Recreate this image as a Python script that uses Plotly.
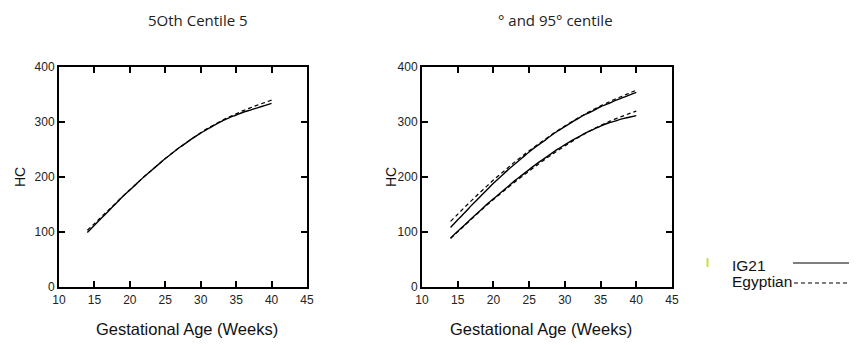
import plotly.graph_objects as go

weeks = list(range(14, 41))

# Left panel: 50th centile
ig21_p50 = [99, 112, 125, 138, 151, 164, 176, 188, 200, 211, 222, 233, 243, 253,
            262, 271, 279, 287, 294, 301, 307, 312, 317, 321, 325, 329, 333]
egy_p50 = [103, 115, 127.5, 140, 152, 164.5, 176.5, 188, 200, 211, 222, 233, 243, 253,
           262, 271, 280, 288, 295, 302, 308.5, 314, 320, 325, 330, 334.5, 339]

# Right panel: 5th and 95th centiles
ig21_p95 = [108, 122, 135, 149, 162, 175, 188, 200, 212, 223, 234, 245, 255, 264,
            274, 283, 291, 299, 307, 314, 320, 327, 332, 338, 343, 348, 353]
egy_p95 = [119, 132, 145, 157.5, 170, 182, 194, 205, 216, 227, 237, 247, 256.5, 266,
           275, 284, 292, 300, 308, 315, 322, 328.5, 334.5, 340.5, 346, 351.5, 357]
ig21_p5 = [89, 101, 113, 125, 137, 149, 160, 171, 182, 193, 203, 213, 223, 232,
           241, 250, 258, 266, 273, 280, 286, 292, 297, 301, 305, 308, 311]
egy_p5 = [88, 100, 112, 124, 136, 147.5, 158.5, 169.5, 180, 190.5, 200.5, 210.5, 220, 229.5,
          238.5, 247.5, 256, 264, 272, 279.5, 286.5, 293, 299, 304.5, 309.5, 314.5, 319]

x_ticks = [10, 15, 20, 25, 30, 35, 40, 45]
y_ticks = [0, 100, 200, 300, 400]

titles = ["5Oth Centile 5", "° and 95° centile"]
x_title = "Gestational Age (Weeks)"
y_title = "HC"
legend_names = ["IG21", "Egyptian"]

# page body has an 8px default margin; the figure is sized to fit the window
OFF = 8
W, H = 857 - OFF, 345 - OFF

def px(x):
    return (x - OFF) / W

def py(y):
    return 1 - (y - OFF) / H

fig = go.Figure()

solid = dict(color="black", width=1.4)
dashed = dict(color="black", width=1.2, dash="4px,3px")

fig.add_trace(go.Scatter(x=weeks, y=ig21_p50, mode="lines", line=solid, line_shape="spline",
                         xaxis="x", yaxis="y", showlegend=False))
fig.add_trace(go.Scatter(x=weeks, y=egy_p50, mode="lines", line=dashed, line_shape="spline",
                         xaxis="x", yaxis="y", showlegend=False))
for s in (ig21_p95, ig21_p5):
    fig.add_trace(go.Scatter(x=weeks, y=s, mode="lines", line=solid, line_shape="spline",
                             xaxis="x2", yaxis="y2", showlegend=False))
for s in (egy_p95, egy_p5):
    fig.add_trace(go.Scatter(x=weeks, y=s, mode="lines", line=dashed, line_shape="spline",
                             xaxis="x2", yaxis="y2", showlegend=False))

tickfont = dict(family="Liberation Sans", size=12, color="#222")
y_dom = [py(287), py(66.5)]

def xaxis(dom, anchor):
    return dict(domain=dom, anchor=anchor, range=[10, 45], tickvals=x_ticks,
                ticks="inside", ticklen=6, tickwidth=2, tickcolor="black",
                showline=True, linecolor="black", linewidth=2, mirror="ticks",
                showgrid=False, zeroline=False, tickfont=tickfont, ticklabelstandoff=1,
                automargin=False)

def yaxis(anchor):
    return dict(domain=y_dom, anchor=anchor, range=[0, 400], tickvals=y_ticks,
                ticks="inside", ticklen=6, tickwidth=2, tickcolor="black",
                showline=True, linecolor="black", linewidth=2, mirror="ticks",
                showgrid=False, zeroline=False, tickfont=tickfont, ticklabelstandoff=0,
                automargin=False)

fig.update_layout(
    width=W, height=H, margin=dict(l=0, r=0, t=0, b=0, autoexpand=False),
    paper_bgcolor="white", plot_bgcolor="white",
    xaxis=xaxis([px(59), px(307)], "y"),
    yaxis=yaxis("x"),
    xaxis2=xaxis([px(422), px(672)], "y2"),
    yaxis2=yaxis("x2"),
)

ann = []
titlefont = dict(family="Open Sans", size=15, color="#222")
ann.append(dict(text=titles[0], x=px(198), y=py(20), xref="paper", yref="paper",
                showarrow=False, font=titlefont, xanchor="center", yanchor="middle"))
ann.append(dict(text=titles[1], x=px(555), y=py(20), xref="paper", yref="paper",
                showarrow=False, font=titlefont, xanchor="center", yanchor="middle"))
axfont = dict(family="Liberation Sans", size=16.5, color="#111")
for cx in (187, 541):
    ann.append(dict(text=x_title, x=px(cx), y=py(329), xref="paper", yref="paper",
                    showarrow=False, font=axfont, xanchor="center", yanchor="middle"))
yfont = dict(family="Liberation Sans", size=14, color="#111")
for cx in (20, 391):
    ann.append(dict(text=y_title, x=px(cx), y=py(177), xref="paper", yref="paper",
                    showarrow=False, font=yfont, textangle=-90,
                    xanchor="center", yanchor="middle"))

legfont = dict(family="Liberation Sans", size=15.5, color="#111")
ann.append(dict(text=legend_names[0], x=px(730), y=py(265), xref="paper", yref="paper",
                showarrow=False, font=legfont, xanchor="left", yanchor="middle"))
ann.append(dict(text=legend_names[1], x=px(730), y=py(281), xref="paper", yref="paper",
                showarrow=False, font=legfont, xanchor="left", yanchor="middle"))
fig.update_layout(annotations=ann)

shapes = [
    dict(type="line", xref="paper", yref="paper", x0=px(793), x1=px(852),
         y0=py(263), y1=py(263), line=dict(color="black", width=1.2)),
    dict(type="line", xref="paper", yref="paper", x0=px(794), x1=px(857),
         y0=py(283), y1=py(283), line=dict(color="black", width=1.1, dash="4px,3px")),
    dict(type="line", xref="paper", yref="paper", x0=px(707.5), x1=px(707.5),
         y0=py(258), y1=py(267), line=dict(color="#c8e040", width=2)),
]
fig.update_layout(shapes=shapes)

fig.write_html("out.html")
